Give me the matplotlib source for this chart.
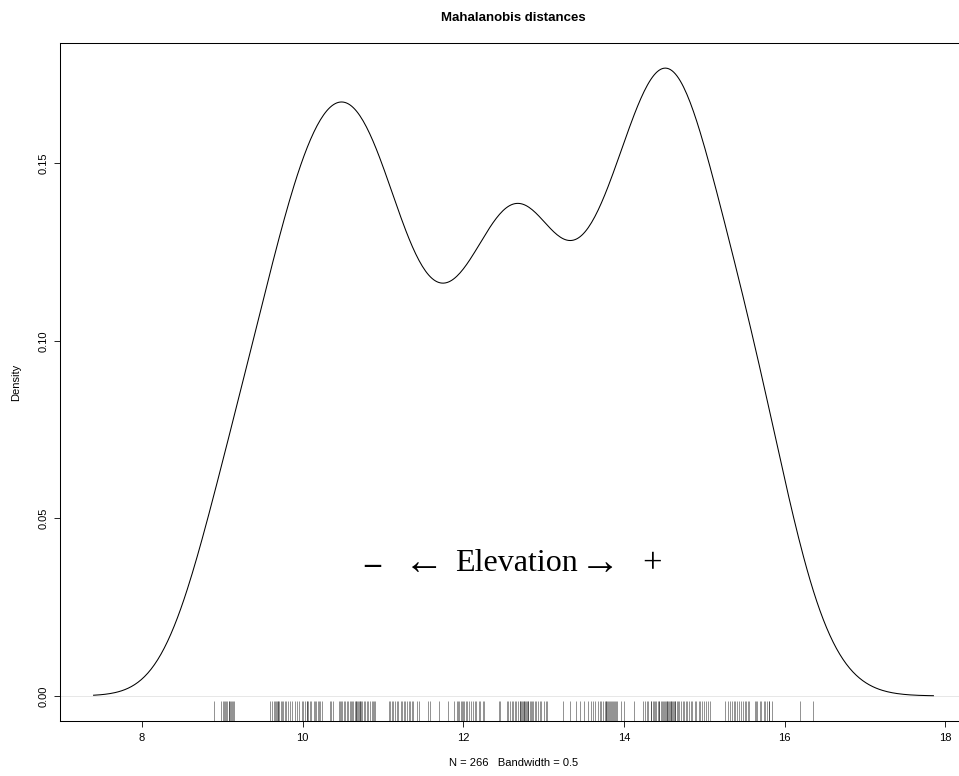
import matplotlib
matplotlib.use("Agg")
import matplotlib.pyplot as plt
import numpy as np

# Mahalanobis distances (rug values), N = 266
dist_a = [8.90, 8.99, 9.01, 9.02, 9.04, 9.05, 9.06, 9.08, 9.09, 9.10, 9.11, 9.12, 9.13, 9.15]
dist_b = [9.60, 9.62, 9.64, 9.66, 9.67, 9.68, 9.69, 9.70, 9.71, 9.73, 9.75, 9.76, 9.78,
          9.80, 9.82, 9.85, 9.87, 9.90, 9.93, 9.95, 9.99, 10.01, 10.03, 10.05, 10.06,
          10.07, 10.09, 10.11, 10.14, 10.16, 10.17, 10.19, 10.20, 10.22, 10.24]
dist_c = [10.34, 10.36, 10.38, 10.45, 10.47, 10.48, 10.49, 10.51, 10.53, 10.55, 10.57,
          10.59, 10.60, 10.61, 10.63, 10.65, 10.66, 10.67, 10.68, 10.69, 10.70, 10.71,
          10.72, 10.73, 10.74, 10.76, 10.78, 10.80, 10.82, 10.84, 10.86, 10.88, 10.89, 10.90]
dist_d = [11.07, 11.09, 11.11, 11.13, 11.15, 11.17, 11.19, 11.22, 11.24, 11.26, 11.28,
          11.30, 11.32, 11.34, 11.36, 11.38]
dist_e = [11.43, 11.45, 11.56, 11.58, 11.70, 11.81, 11.89, 11.92, 11.93, 11.95, 11.97,
          11.99, 12.00, 12.01, 12.03, 12.05, 12.07, 12.09, 12.12, 12.14, 12.16, 12.19,
          12.21, 12.24, 12.26]
dist_f = [12.44, 12.46, 12.54, 12.56, 12.58, 12.61, 12.62, 12.64, 12.66, 12.68, 12.70,
          12.71, 12.72, 12.73, 12.74, 12.75, 12.76, 12.77, 12.78, 12.79, 12.80, 12.81,
          12.83, 12.84, 12.85, 12.87, 12.89, 12.90, 12.93, 12.95, 12.97, 13.01, 13.03, 13.04]
dist_g = [13.24, 13.33, 13.40, 13.45, 13.50, 13.55, 13.59, 13.62, 13.64, 13.68, 13.70,
          13.72, 13.74, 13.76, 13.77, 13.78, 13.79, 13.80, 13.81, 13.82, 13.84, 13.85,
          13.86, 13.88, 13.89, 13.90, 13.91, 13.96, 14.00, 14.13]
dist_h = [14.24, 14.26, 14.28, 14.30, 14.33, 14.34, 14.36, 14.37, 14.38, 14.40, 14.42,
          14.43, 14.44, 14.46, 14.47, 14.48, 14.50, 14.51, 14.52, 14.53, 14.54, 14.55,
          14.56, 14.57, 14.58, 14.59, 14.60, 14.61, 14.62, 14.63, 14.64, 14.66, 14.67,
          14.69, 14.71, 14.73, 14.75, 14.77, 14.79, 14.81, 14.83, 14.85, 14.88, 14.90,
          14.93, 14.95, 14.97, 15.00, 15.02, 15.05, 15.07]
dist_i = [15.26, 15.30, 15.32, 15.34, 15.37, 15.38, 15.41, 15.43, 15.46, 15.48, 15.51,
          15.52, 15.54, 15.56, 15.63, 15.64, 15.66, 15.69, 15.71, 15.74, 15.76, 15.78,
          15.80, 15.81, 15.84, 16.19, 16.35]

bandwidth = 0.5
x_ticks = [8, 10, 12, 14, 16, 18]
y_ticks = [0.00, 0.05, 0.10, 0.15]

dists = np.array(dist_a + dist_b + dist_c + dist_d + dist_e + dist_f + dist_g + dist_h + dist_i)
n = len(dists)

# gaussian density like R's density(), cut = 3
grid = np.linspace(dists.min() - 3 * bandwidth, dists.max() + 3 * bandwidth, 512)
z = (grid[:, None] - dists[None, :]) / bandwidth
dens = np.exp(-0.5 * z ** 2).sum(axis=1) / (n * bandwidth * np.sqrt(2 * np.pi))

plt.rcParams['font.family'] = ['Liberation Sans', 'DejaVu Sans']

fig = plt.figure(figsize=(9.59, 7.76), dpi=100)
# right side of the plot region runs off the picture, as in the original
ax = fig.add_axes([60 / 959, 55 / 776, 907 / 959, 678 / 776])

xr = grid.max() - grid.min()
yr = dens.max()
ax.set_xlim(grid.min() - 0.04 * xr, grid.max() + 0.04 * xr)
ax.set_ylim(-0.04 * yr, yr * 1.04)

ax.axhline(0, color='#dddddd', lw=0.5, zorder=1)
ax.plot(grid, dens, color='black', lw=0.75, zorder=3)
ax.vlines(dists, 0, 0.03, transform=ax.get_xaxis_transform(), color='black',
          lw=0.5, alpha=0.6, zorder=2)

ax.set_xticks(x_ticks)
ax.set_xticklabels([str(t) for t in x_ticks])
ax.set_yticks(y_ticks)
ax.set_yticklabels(["%.2f" % t for t in y_ticks], rotation=90, va='center')
ax.tick_params(direction='out', length=4.5, width=0.6, labelsize=8, pad=4, colors='black')
for s in ax.spines.values():
    s.set_linewidth(0.75)

ax.set_title("Mahalanobis distances", fontsize=9.5, fontweight='bold', pad=16)
ax.set_ylabel("Density", fontsize=8, labelpad=12)
ax.set_xlabel("N = %d   Bandwidth = %g" % (n, bandwidth), fontsize=8, labelpad=11)

# "-  <-  Elevation ->  +" label, arrows a bit bigger than the word
serif = ['Liberation Serif', 'DejaVu Serif']
tr = ax.get_xaxis_transform()
ax.text(12.66, 0.233, "Elevation", fontsize=23, ha='center', va='center', family=serif, transform=tr)
ax.text(10.873, 0.230, "–", fontsize=23, ha='center', va='center', family=serif,
        fontweight='bold', transform=tr)
ax.text(11.508, 0.230, "←", fontsize=29, ha='center', va='center', family=serif, transform=tr)
ax.text(13.705, 0.230, "→", fontsize=29, ha='center', va='center', family=serif, transform=tr)
ax.text(14.346, 0.230, "+", fontsize=25, ha='center', va='center', family=serif, transform=tr)

fig.savefig("out.png", dpi=100)
